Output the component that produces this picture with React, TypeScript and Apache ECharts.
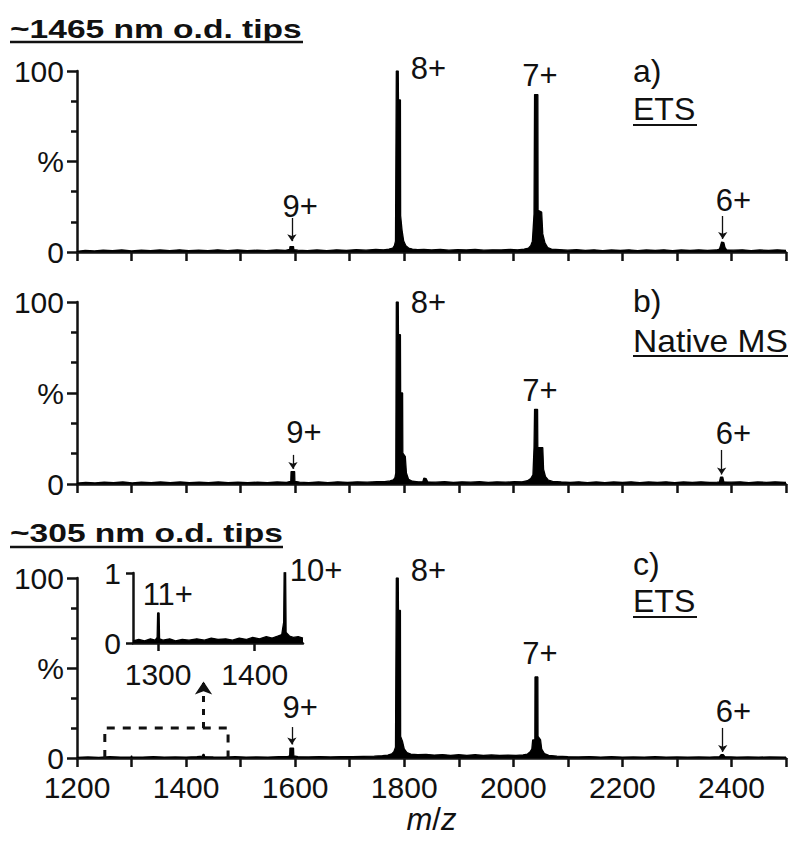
import React, { useEffect, useRef } from 'react';
import * as echarts from 'echarts';

const FONT = '"Liberation Sans", Arial, Helvetica, sans-serif';
const INK = '#111';

// ---- texts ----
const titleTop = '~1465 nm o.d. tips';
const titleBottom = '~305 nm o.d. tips';
const panelTags = ['a)', 'b)', 'c)'];
const panelModes = ['ETS', 'Native MS', 'ETS'];
const xAxisName = '{i|m}/{i|z}';

// ---- spectra: [m/z, relative intensity %] ----
const specA = [
  [1200, 0.4], [1215, 0.9], [1232, 0.6], [1248, 1.0], [1265, 0.7], [1282, 1.1], [1300, 0.6], [1318, 1.0],
  [1335, 0.7], [1352, 1.1], [1370, 0.8], [1388, 1.2], [1405, 0.7], [1423, 1.0], [1440, 0.8], [1458, 1.2],
  [1476, 0.7], [1494, 1.1], [1512, 0.8], [1530, 1.0], [1548, 0.7], [1566, 1.1], [1582, 0.9], [1590, 1.4],
  [1590.5, 3.0], [1597, 3.0], [1597.5, 1.3], [1605, 1.0], [1622, 0.7], [1640, 1.1], [1658, 0.8], [1676, 1.2],
  [1694, 0.9], [1712, 1.3], [1730, 1.0], [1748, 1.4], [1762, 1.2], [1772, 1.6], [1779, 2.2], [1782, 3.5],
  [1784, 6], [1785.5, 100], [1789, 100], [1789.4, 84], [1793, 84], [1793.4, 20], [1796, 12], [1799, 6],
  [1803, 3.5], [1808, 2.2], [1815, 1.6], [1825, 1.3], [1836, 1.5], [1850, 1.1], [1866, 1.4], [1882, 1.0],
  [1898, 1.3], [1914, 1.1], [1930, 1.4], [1946, 1.0], [1962, 1.2], [1978, 1.1], [1994, 1.4], [2008, 1.2],
  [2020, 1.6], [2028, 2.2], [2032, 3.5], [2035, 6], [2038, 21], [2039, 87], [2045, 87], [2045.4, 23],
  [2052, 22], [2054, 10], [2058, 5], [2063, 2.5], [2070, 1.6], [2085, 1.3], [2100, 1.0], [2116, 1.3],
  [2132, 0.9], [2148, 1.2], [2164, 0.8], [2180, 1.1], [2196, 0.9], [2212, 1.2], [2228, 0.8], [2244, 1.1],
  [2260, 0.9], [2276, 1.2], [2292, 0.8], [2308, 1.1], [2324, 0.9], [2340, 1.2], [2356, 0.9], [2372, 1.1],
  [2378, 1.6], [2380, 3.5], [2382, 5.5], [2386, 5.2], [2388, 2.5], [2391, 1.2], [2404, 1.0], [2420, 1.2],
  [2436, 0.8], [2452, 1.1], [2468, 0.9], [2484, 1.2], [2500, 0.9],
];

const specB = [
  [1200, 0.5], [1216, 0.9], [1233, 0.6], [1250, 1.0], [1267, 0.7], [1284, 1.1], [1301, 0.6], [1318, 1.0],
  [1336, 0.7], [1353, 1.1], [1371, 0.8], [1389, 1.1], [1406, 0.7], [1424, 1.0], [1441, 0.8], [1459, 1.1],
  [1477, 0.7], [1495, 1.0], [1513, 0.8], [1531, 1.0], [1549, 0.7], [1567, 1.1], [1584, 0.9], [1592, 1.5],
  [1592.5, 6.8], [1599, 6.8], [1599.5, 1.5], [1608, 1.0], [1625, 0.7], [1643, 1.1], [1660, 0.8], [1678, 1.2],
  [1696, 0.9], [1714, 1.2], [1732, 1.0], [1750, 1.3], [1764, 1.3], [1774, 1.7], [1780, 2.3], [1783, 3.5],
  [1784.5, 6], [1785.5, 100], [1789, 100], [1789.4, 82], [1793, 82], [1793.4, 50], [1797, 50], [1797.4, 17],
  [1802, 15], [1804, 6], [1808, 2.5], [1815, 1.5], [1826, 1.2], [1834, 1.2], [1836, 3.2], [1840, 3.0],
  [1843, 1.2], [1858, 1.0], [1874, 1.3], [1890, 0.9], [1906, 1.2], [1922, 1.0], [1938, 1.3], [1954, 0.9],
  [1970, 1.2], [1986, 1.0], [2002, 1.3], [2016, 1.2], [2026, 1.8], [2032, 3.0], [2036, 5], [2038, 20],
  [2039, 41], [2044.5, 41], [2044.9, 20], [2054, 20], [2055.5, 8], [2059, 4], [2064, 2.2], [2072, 1.4],
  [2088, 1.1], [2104, 0.9], [2120, 1.2], [2136, 0.8], [2152, 1.1], [2168, 0.8], [2184, 1.1], [2200, 0.9],
  [2216, 1.2], [2232, 0.8], [2248, 1.1], [2264, 0.9], [2280, 1.2], [2296, 0.8], [2312, 1.1], [2328, 0.9],
  [2344, 1.2], [2360, 0.9], [2374, 1.0], [2378, 1.2], [2380, 3.8], [2384, 3.8], [2386, 1.2], [2400, 1.0],
  [2416, 1.2], [2432, 0.8], [2448, 1.1], [2464, 0.9], [2480, 1.2], [2500, 0.9],
];

const specC = [
  [1200, 0.3], [1220, 0.6], [1240, 0.4], [1260, 0.7], [1280, 0.5], [1299, 0.6], [1300, 1.2], [1301, 0.6],
  [1320, 0.5], [1340, 0.7], [1360, 0.5], [1380, 0.6], [1400, 0.5], [1420, 0.7], [1430, 1.0], [1431, 2.0],
  [1433, 2.0], [1434, 0.8], [1450, 0.6], [1470, 0.5], [1490, 0.7], [1510, 0.5], [1530, 0.6], [1550, 0.5],
  [1570, 0.7], [1586, 0.8], [1590, 1.2], [1590.5, 5.5], [1597, 5.5], [1597.5, 1.2], [1605, 0.7], [1625, 0.6],
  [1645, 0.8], [1665, 0.6], [1685, 0.8], [1705, 0.7], [1725, 0.9], [1745, 1.0], [1760, 1.3], [1770, 1.6],
  [1777, 2.3], [1781, 3.5], [1784, 6], [1785.5, 100], [1789, 100], [1789.4, 82], [1793, 82], [1793.4, 12],
  [1797, 9], [1800, 5], [1805, 3], [1812, 2.2], [1825, 1.8], [1840, 2.0], [1855, 1.6], [1870, 1.9],
  [1885, 1.5], [1900, 1.8], [1915, 1.5], [1930, 1.8], [1945, 1.4], [1960, 1.7], [1975, 1.4], [1990, 1.6],
  [2005, 1.5], [2018, 1.7], [2026, 2.2], [2031, 3.5], [2034, 5], [2035.5, 10], [2039.5, 10], [2039.8, 45],
  [2045, 45], [2045.3, 12], [2050, 10], [2052, 5], [2057, 2.5], [2065, 1.5], [2080, 1.0], [2100, 0.7],
  [2120, 0.6], [2140, 0.8], [2160, 0.5], [2180, 0.7], [2200, 0.5], [2220, 0.6], [2240, 0.5], [2260, 0.7],
  [2280, 0.5], [2300, 0.6], [2320, 0.5], [2340, 0.6], [2360, 0.5], [2378, 0.7], [2381, 1.8], [2385, 1.8],
  [2388, 0.7], [2410, 0.5], [2430, 0.6], [2450, 0.5], [2470, 0.6], [2500, 0.5],
];

// inset (panel c): 0–1 % scale
const specInset = [
  [1274, 0.03], [1280, 0.05], [1286, 0.03], [1292, 0.06], [1297, 0.04], [1299, 0.08], [1299.5, 0.43],
  [1301, 0.43], [1301.5, 0.06], [1305, 0.04], [1312, 0.06], [1318, 0.03], [1325, 0.05], [1332, 0.04],
  [1340, 0.06], [1348, 0.04], [1355, 0.07], [1362, 0.05], [1370, 0.06], [1377, 0.04], [1384, 0.07],
  [1391, 0.05], [1398, 0.08], [1405, 0.06], [1412, 0.09], [1418, 0.07], [1424, 0.1], [1428, 0.12],
  [1430, 0.3], [1430.5, 1.02], [1432, 1.02], [1432.5, 0.15], [1436, 0.1], [1440, 0.08], [1445, 0.09],
  [1450, 0.07],
];

// ---- peak labels: [text, m/z, %] (text centre) ----
const peakLabelsA = [['8+', 1844.5, 101.4], ['7+', 2049, 97.5], ['9+', 1609, 25.4], ['6+', 2403.7, 28.2]];
const peakLabelsB = [['8+', 1844.5, 100], ['7+', 2049, 51.6], ['9+', 1616, 28.3], ['6+', 2403.7, 28]];
const peakLabelsC = [['8+', 1844.5, 104.4], ['7+', 2049, 57.8], ['9+', 1609, 28], ['6+', 2403.7, 25.6]];
const peakLabelsInset = [['10+', 1463.5, 1.03], ['11+', 1310, 0.686]];

// ---- small arrows: [m/z, from %, to %] ----
const arrowsA = [[1594, 18.8, 6.0], [2384, 19.9, 7.2]];
const arrowsB = [[1596, 16, 8.3], [2382, 18.7, 5.2]];
const arrowsC = [[1594, 17.2, 7.5], [2384, 16.7, 3.4]];

// ---- zoom box in panel c and dashed arrow ----
const zoomBox = [[1251, 0], [1251, 16.7], [1477, 16.7], [1477, 0]];
const zoomArrow = [1432, 16.7, 42.5];

const grids = [
  { left: 77, top: 71, width: 709, height: 181 },
  { left: 77, top: 302, width: 709, height: 182 },
  { left: 77, top: 578, width: 709, height: 180 },
  { left: 133, top: 573, width: 170, height: 70 },
];

const tickLabel = { fontSize: 30, color: INK, fontFamily: FONT, lineHeight: 24 };

function mainX(i: number, showLabels: boolean) {
  return {
    type: 'value', gridIndex: i, min: 1200, max: 2500, interval: 100,
    axisLine: { show: true, onZero: false, lineStyle: { color: INK, width: 2.5 } },
    axisTick: { show: true, length: 9, lineStyle: { color: INK, width: 2.5 } },
    axisLabel: {
      show: showLabels, margin: 17, ...tickLabel,
      formatter: (v: number) => (v % 200 === 0 ? String(v) : ''),
    },
    splitLine: { show: false },
    ...(i === 2
      ? {
          name: xAxisName, nameLocation: 'middle', nameGap: 46,
          nameTextStyle: { fontSize: 31, color: INK, fontFamily: FONT, rich: { i: { fontStyle: 'italic', fontSize: 31, color: INK, fontFamily: FONT } } },
        }
      : {}),
  };
}

function mainY(i: number) {
  return {
    type: 'value', gridIndex: i, min: 0, max: 100, interval: 50,
    axisLine: { show: true, onZero: false, lineStyle: { color: INK, width: 2.5 } },
    axisTick: { show: true, length: 10, lineStyle: { color: INK, width: 2.5 } },
    minorTick: { show: true, splitNumber: 3, length: 6, lineStyle: { color: INK, width: 2.5 } },
    axisLabel: {
      margin: 13, ...tickLabel,
      formatter: (v: number) => (v === 50 ? '%' : String(v)),
    },
    splitLine: { show: false },
    minorSplitLine: { show: false },
  };
}

function arrowMarks(arrows: number[][]) {
  return {
    silent: true, animation: false, symbol: ['none', 'arrow'], symbolSize: 7,
    label: { show: false },
    lineStyle: { color: INK, width: 1.3, type: 'solid' },
    emphasis: { disabled: true },
    data: arrows.map(([mz, y1, y2]) => [{ coord: [mz, y1] }, { coord: [mz, y2] }]),
  };
}

function specSeries(i: number, data: number[][], arrows?: number[][]) {
  return {
    type: 'line', xAxisIndex: i, yAxisIndex: i, data, symbol: 'none', showSymbol: false,
    lineStyle: { color: '#000', width: 1.3 }, areaStyle: { color: '#000', opacity: 1 },
    silent: true, z: 3,
    ...(arrows ? { markLine: arrowMarks(arrows) } : {}),
  };
}

function labelSeries(i: number, labels: (string | number)[][]) {
  return {
    type: 'scatter', xAxisIndex: i, yAxisIndex: i, symbolSize: 1, clip: false, silent: true, z: 5,
    itemStyle: { color: '#fff', opacity: 0 },
    data: labels.map(([t, mz, y]) => ({ name: t, value: [mz, y] })),
    label: {
      show: true, position: 'inside', formatter: '{b}', fontSize: 31, color: INK, fontFamily: FONT,
      opacity: 1, textBorderWidth: 0, textBorderColor: 'transparent',
    },
  };
}

function txt(text: string, x: number, y: number, extra: any = {}) {
  return {
    type: 'text', x, y, silent: true, z: 10, ...extra.el,
    style: { text, fontSize: 32, fontFamily: FONT, fill: INK, verticalAlign: 'middle', align: 'left', ...extra.style },
  };
}

function uline(x1: number, x2: number, y: number, w = 2.2) {
  return { type: 'line', silent: true, z: 10, shape: { x1, y1: y, x2, y2: y }, style: { stroke: INK, lineWidth: w } };
}

export default function App() {
  const ref = useRef<HTMLDivElement>(null);
  useEffect(() => {
    document.body.style.margin = '0';
    const chart = echarts.init(ref.current!, null, { renderer: 'svg' });
    const option: any = {
      animation: false,
      backgroundColor: '#fff',
      textStyle: { fontFamily: FONT },
      grid: grids,
      xAxis: [
        mainX(0, false),
        mainX(1, false),
        mainX(2, true),
        {
          type: 'value', gridIndex: 3, min: 1274, max: 1450,
          axisLine: { show: true, onZero: false, lineStyle: { color: INK, width: 2.5 } },
          axisTick: { show: true, length: 8, customValues: [1300, 1400], lineStyle: { color: INK, width: 2.5 } },
          axisLabel: { margin: 19, ...tickLabel, customValues: [1300, 1400], formatter: (v: number) => String(v) },
          splitLine: { show: false },
        },
      ],
      yAxis: [
        mainY(0),
        mainY(1),
        mainY(2),
        {
          type: 'value', gridIndex: 3, min: 0, max: 1, interval: 1,
          axisLine: { show: true, onZero: false, lineStyle: { color: INK, width: 2.5 } },
          axisTick: { show: true, length: 7, lineStyle: { color: INK, width: 2.5 } },
          axisLabel: { margin: 12, ...tickLabel, formatter: (v: number) => String(v) },
          splitLine: { show: false },
        },
      ],
      series: [
        specSeries(0, specA, arrowsA),
        specSeries(1, specB, arrowsB),
        specSeries(2, specC, arrowsC),
        specSeries(3, specInset),
        {
          type: 'line', xAxisIndex: 2, yAxisIndex: 2, data: zoomBox, symbol: 'none', silent: true, z: 4,
          lineStyle: { color: INK, width: 3, type: [8, 8] },
          markLine: {
            silent: true, animation: false, symbol: ['none', 'arrow'], symbolSize: 13,
            label: { show: false }, emphasis: { disabled: true },
            lineStyle: { color: INK, width: 3, type: [6, 7] },
            data: [[{ coord: [zoomArrow[0], zoomArrow[1]] }, { coord: [zoomArrow[0], zoomArrow[2]] }]],
          },
        },
        labelSeries(0, peakLabelsA),
        labelSeries(1, peakLabelsB),
        labelSeries(2, peakLabelsC),
        labelSeries(3, peakLabelsInset),
      ],
      graphic: [
        txt(titleTop, 10, 29, { el: { scaleX: 1.29 }, style: { fontSize: 26, fontWeight: 'bold' } }),
        uline(10, 303, 42, 2.5),
        txt(titleBottom, 10, 533, { el: { scaleX: 1.29 }, style: { fontSize: 26, fontWeight: 'bold' } }),
        uline(10, 283, 547, 2.5),
        txt(panelTags[0], 633, 71),
        txt(panelModes[0], 633, 109),
        uline(633, 697, 125),
        txt(panelTags[1], 633, 300.5),
        txt(panelModes[1], 633, 341, { el: { scaleX: 1.05 } }),
        uline(633, 788, 356),
        txt(panelTags[2], 633, 564),
        txt(panelModes[2], 633, 601),
        uline(633, 697, 617),
      ],
    };
    chart.setOption(option);
    return () => chart.dispose();
  }, []);
  return <div ref={ref} style={{ width: 800, height: 848 }} />;
}
